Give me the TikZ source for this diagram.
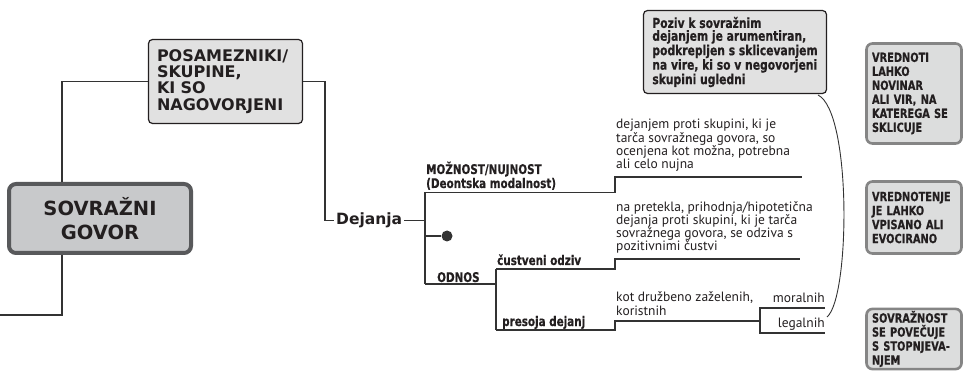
\documentclass[tikz,border=0pt]{standalone}
\usepackage{fontspec}
\setmainfont{PT Sans}
\newfontfamily\dispfont{DejaVu Sans}
\newfontfamily\condfont{DejaVu Sans}[FakeStretch=0.78,BoldFeatures={FakeBold=0.5}]
\usetikzlibrary{positioning,calc}
\definecolor{ink}{HTML}{231F20}
\definecolor{wire}{HTML}{333333}
\definecolor{mainfill}{HTML}{C8C9CB}
\definecolor{mainedge}{HTML}{58595B}
\definecolor{catfill}{HTML}{E1E1E1}
\definecolor{notefill}{HTML}{DCDDDD}
\definecolor{noteedge}{HTML}{858585}

\begin{document}
\begin{tikzpicture}[
  x=1pt,y=-1pt,text=ink,
  conn/.style={draw=wire,line width=1.3pt},
  mainbox/.style={draw=mainedge,line width=4pt,fill=mainfill,rounded corners=7pt,
                  align=center,font=\dispfont\bfseries\fontsize{19.5}{24}\selectfont},
  catbox/.style={draw=ink,line width=1.2pt,fill=catfill,rounded corners=4pt,
                 align=left,inner ysep=2pt},
  notebox/.style={draw=noteedge,line width=2.6pt,fill=notefill,rounded corners=6pt,
                  align=left,text width=84pt,inner xsep=5.5pt,inner ysep=2pt,minimum width=95pt,
                  font=\condfont\bfseries\fontsize{12.6}{14}\selectfont},
  txt/.style={inner sep=0pt,anchor=base west,align=left,
              font=\fontsize{13.5}{13.2}\selectfont},
  lbl/.style={inner sep=0pt,anchor=base west,align=left,
              font=\condfont\bfseries\fontsize{13.3}{14}\selectfont},
]
  \useasboundingbox (0,0) rectangle (966,371);

  % boxes
  \node[mainbox,minimum width=182pt,minimum height=69pt] (govor) at (100,218.5)
    {SOVRAŽNI\\GOVOR};
  \node[catbox,text width=137pt,inner xsep=8.5pt,minimum height=84pt,
        font=\dispfont\bfseries\fontsize{16}{16.3}\selectfont] (posam) at (225.5,81.5)
    {POSAMEZNIKI/\\SKUPINE,\\KI SO\\NAGOVORJENI};
  \node[catbox,minimum width=183pt,minimum height=83pt,
        font=\condfont\bfseries\fontsize{13.8}{12.8}\selectfont] (poziv) at (735,52)
    {Poziv k sovražnim\\dejanjem je arumentiran,\\podkrepljen s sklicevanjem\\na vire, ki so v negovorjeni\\skupini ugledni};
  \node[notebox,minimum height=100pt] (vred) at (914,93.5)
    {VREDNOTI\\LAHKO\\NOVINAR\\ALI VIR, NA\\KATEREGA SE\\SKLICUJE};
  \node[notebox,minimum height=72pt] (vpis) at (914,217.5)
    {VREDNOTENJE\\JE LAHKO\\VPISANO ALI\\EVOCIRANO};
  \node[notebox,minimum height=59pt] (stop) at (914,339)
    {SOVRAŽNOST\\SE POVEČUJE\\S STOPNJEVA-\\NJEM};

  \coordinate (out) at (0,315);
  \draw[conn] ([xshift=-38pt]govor.north) |- (posam.west);
  \draw[conn] ([xshift=-38pt]govor.south) |- (out);

  \node[inner sep=2pt,anchor=west,font=\dispfont\bfseries\fontsize{15.5}{18}\selectfont] (dej) at (334,220.5) {Dejanja};
  \draw[conn] (posam.east) -- ++(22,0) |- (dej.west);

  % branches of Dejanja
  \coordinate (jtop) at (425,192.5);
  \coordinate (jbot) at (425,284);
  \draw[conn] (dej.east) -- (dej.east -| jtop);
  \draw[conn] (jtop) -- (jbot);

  \node[lbl] (mozn) at (426,188) {MOŽNOST/NUJNOST\\(Deontska modalnost)};
  \node[txt] (ta) at (616,168.5)
    {dejanjem proti skupini, ki je\\tarča sovražnega govora, so\\ocenjena kot možna, potrebna\\ali celo nujna};
  \coordinate (as) at (615,192.5);
  \coordinate (ae) at (802,177);
  \draw[conn] (jtop) -- (as) |- (ae);

  \node[circle,fill=wire,inner sep=0pt,minimum size=11pt] (dot) at (447,236) {};
  \draw[conn] (dot -| jtop) -- (dot);

  \node[lbl] (odnos) at (437,282) {ODNOS};
  \coordinate (ot) at (496,269);
  \coordinate (ob) at (496,330);
  \draw[conn] (jbot) -- (jbot -| ot);
  \draw[conn] (ot) -- (ob);

  \node[lbl] (cust) at (497,265) {čustveni odziv};
  \node[txt] (tb) at (616,251)
    {na pretekla, prihodnja/hipotetična\\dejanja proti skupini, ki je tarča\\sovražnega govora, se odziva s\\pozitivnimi čustvi};
  \coordinate (bs) at (615,269);
  \coordinate (be) at (800,259);
  \draw[conn] (ot) -- (bs) |- (be);

  \node[lbl] (presoja) at (502,326) {presoja dejanj};
  \node[txt] (tc) at (616,315) {kot družbeno zaželenih,\\koristnih};
  \coordinate (cs) at (615,330);
  \coordinate (ce) at (760,321);
  \draw[conn] (ob) -- (cs) |- (ce);

  \node[txt,anchor=base east] (moral) at (825,302) {moralnih};
  \node[txt,anchor=base east] (legal) at (825,327) {legalnih};
  \coordinate (mr) at (825,308);
  \coordinate (lr) at (825,333);
  \draw[conn] (mr) -- (mr -| ce) -- (lr -| ce) -- (lr);

  % bracket
  \coordinate (cut) at (818,95);
  \coordinate (cub) at (827,317);
  \draw[wire,line width=0.9pt] (cut) .. controls (852,112) and (850,298) .. (cub);
\end{tikzpicture}
\end{document}
